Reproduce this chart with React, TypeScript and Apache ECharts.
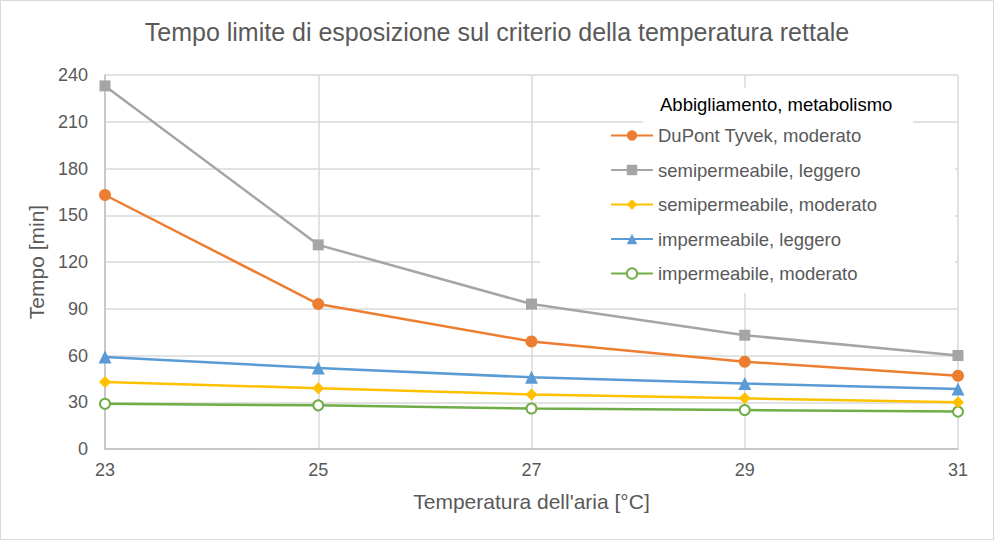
import React, { useEffect, useRef } from "react";
import * as echarts from "echarts";

const categories = ["23", "25", "27", "29", "31"];
const seriesNames = [
  "DuPont Tyvek, moderato",
  "semipermeabile, leggero",
  "semipermeabile, moderato",
  "impermeabile, leggero",
  "impermeabile, moderato",
];
const dupontModerato = [163, 93, 69, 56, 47];
const semiLeggero = [233, 131, 93, 73, 60];
const semiModerato = [43, 39, 35, 32.5, 30];
const impLeggero = [59, 52, 46, 42, 38.5];
const impModerato = [29, 28, 26, 25, 24];
const yTicks = [0, 30, 60, 90, 120, 150, 180, 210, 240];

const colors = ["#ED7D31", "#A5A5A5", "#FFC000", "#5B9BD5", "#70AD47"];
const symbols = ["circle", "rect", "diamond", "triangle", "emptyCircle"];
const symbolSizes = [12, 11, 12, 13, 10];
const FONT = "'Liberation Sans', Arial, sans-serif";

export default function App() {
  const ref = useRef<HTMLDivElement>(null);
  useEffect(() => {
    document.body.style.margin = "0";
    const chart = echarts.init(ref.current!, null, { renderer: "svg" });
    const dataSets = [dupontModerato, semiLeggero, semiModerato, impLeggero, impModerato];
    chart.setOption({
      animation: false,
      backgroundColor: "#ffffff",
      textStyle: { fontFamily: FONT },
      title: {
        text: "Tempo limite di esposizione sul criterio della temperatura rettale",
        left: "center",
        top: 14,
        textStyle: { fontFamily: FONT, fontSize: 25, fontWeight: "normal", color: "#595959" },
      },
      grid: { left: 105, right: 36, top: 75, bottom: 91 },
      xAxis: {
        type: "category",
        data: categories,
        boundaryGap: false,
        name: "Temperatura dell'aria [°C]",
        nameLocation: "middle",
        nameGap: 42,
        nameTextStyle: { fontFamily: FONT, fontSize: 21, color: "#595959" },
        axisLine: { lineStyle: { color: "#BFBFBF", width: 1.5 } },
        axisTick: { show: false },
        axisLabel: { fontFamily: FONT, fontSize: 18, color: "#595959", margin: 12 },
        splitLine: { show: true, lineStyle: { color: "#D9D9D9", width: 1.5 } },
      },
      yAxis: {
        type: "value",
        min: yTicks[0],
        max: yTicks[yTicks.length - 1],
        interval: 30,
        name: "Tempo [min]",
        nameLocation: "middle",
        nameGap: 54,
        nameTextStyle: { fontFamily: FONT, fontSize: 21, color: "#595959" },
        axisLine: { show: true, lineStyle: { color: "#BFBFBF", width: 1.5 } },
        axisTick: { show: false },
        axisLabel: { fontFamily: FONT, fontSize: 18, color: "#595959", margin: 17 },
        splitLine: { show: true, lineStyle: { color: "#D9D9D9", width: 1.5 } },
      },
      legend: {
        orient: "vertical",
        left: 610,
        top: 126,
        padding: 0,
        itemWidth: 42,
        itemHeight: 13,
        itemGap: 15.5,
        data: seriesNames,
        textStyle: { fontFamily: FONT, fontSize: 18.5, color: "#595959" },
      },
      graphic: [
        {
          type: "rect",
          z: 1,
          silent: true,
          shape: { x: 540, y: 124, width: 415, height: 169 },
          style: { fill: "#ffffff" },
        },
        {
          type: "rect",
          z: 1,
          silent: true,
          shape: { x: 643, y: 88, width: 270, height: 37 },
          style: { fill: "#ffffff" },
        },
        {
          type: "text",
          left: 660,
          top: 95,
          z: 100,
          style: { text: "Abbigliamento, metabolismo", fontFamily: FONT, fontSize: 18.5, fill: "#000000" },
        },
        {
          type: "rect",
          z: 100,
          shape: { x: 0.5, y: 0.5, width: 993, height: 539 },
          style: { fill: "none", stroke: "#D9D9D9", lineWidth: 1 },
          silent: true,
        },
      ],
      series: seriesNames.map((name, i) => ({
        name,
        type: "line",
        data: dataSets[i],
        symbol: symbols[i],
        symbolSize: symbolSizes[i],
        showAllSymbol: true,
        lineStyle: { color: colors[i], width: 2.5 },
        itemStyle: {
          color: colors[i],
          borderColor: colors[i],
          borderWidth: i === 4 ? 2.5 : 0,
        },
        z: 10 - i,
      })),
    });
    return () => chart.dispose();
  }, []);
  return <div ref={ref} style={{ position: "absolute", left: 0, top: 0, width: 994, height: 540 }} />;
}
